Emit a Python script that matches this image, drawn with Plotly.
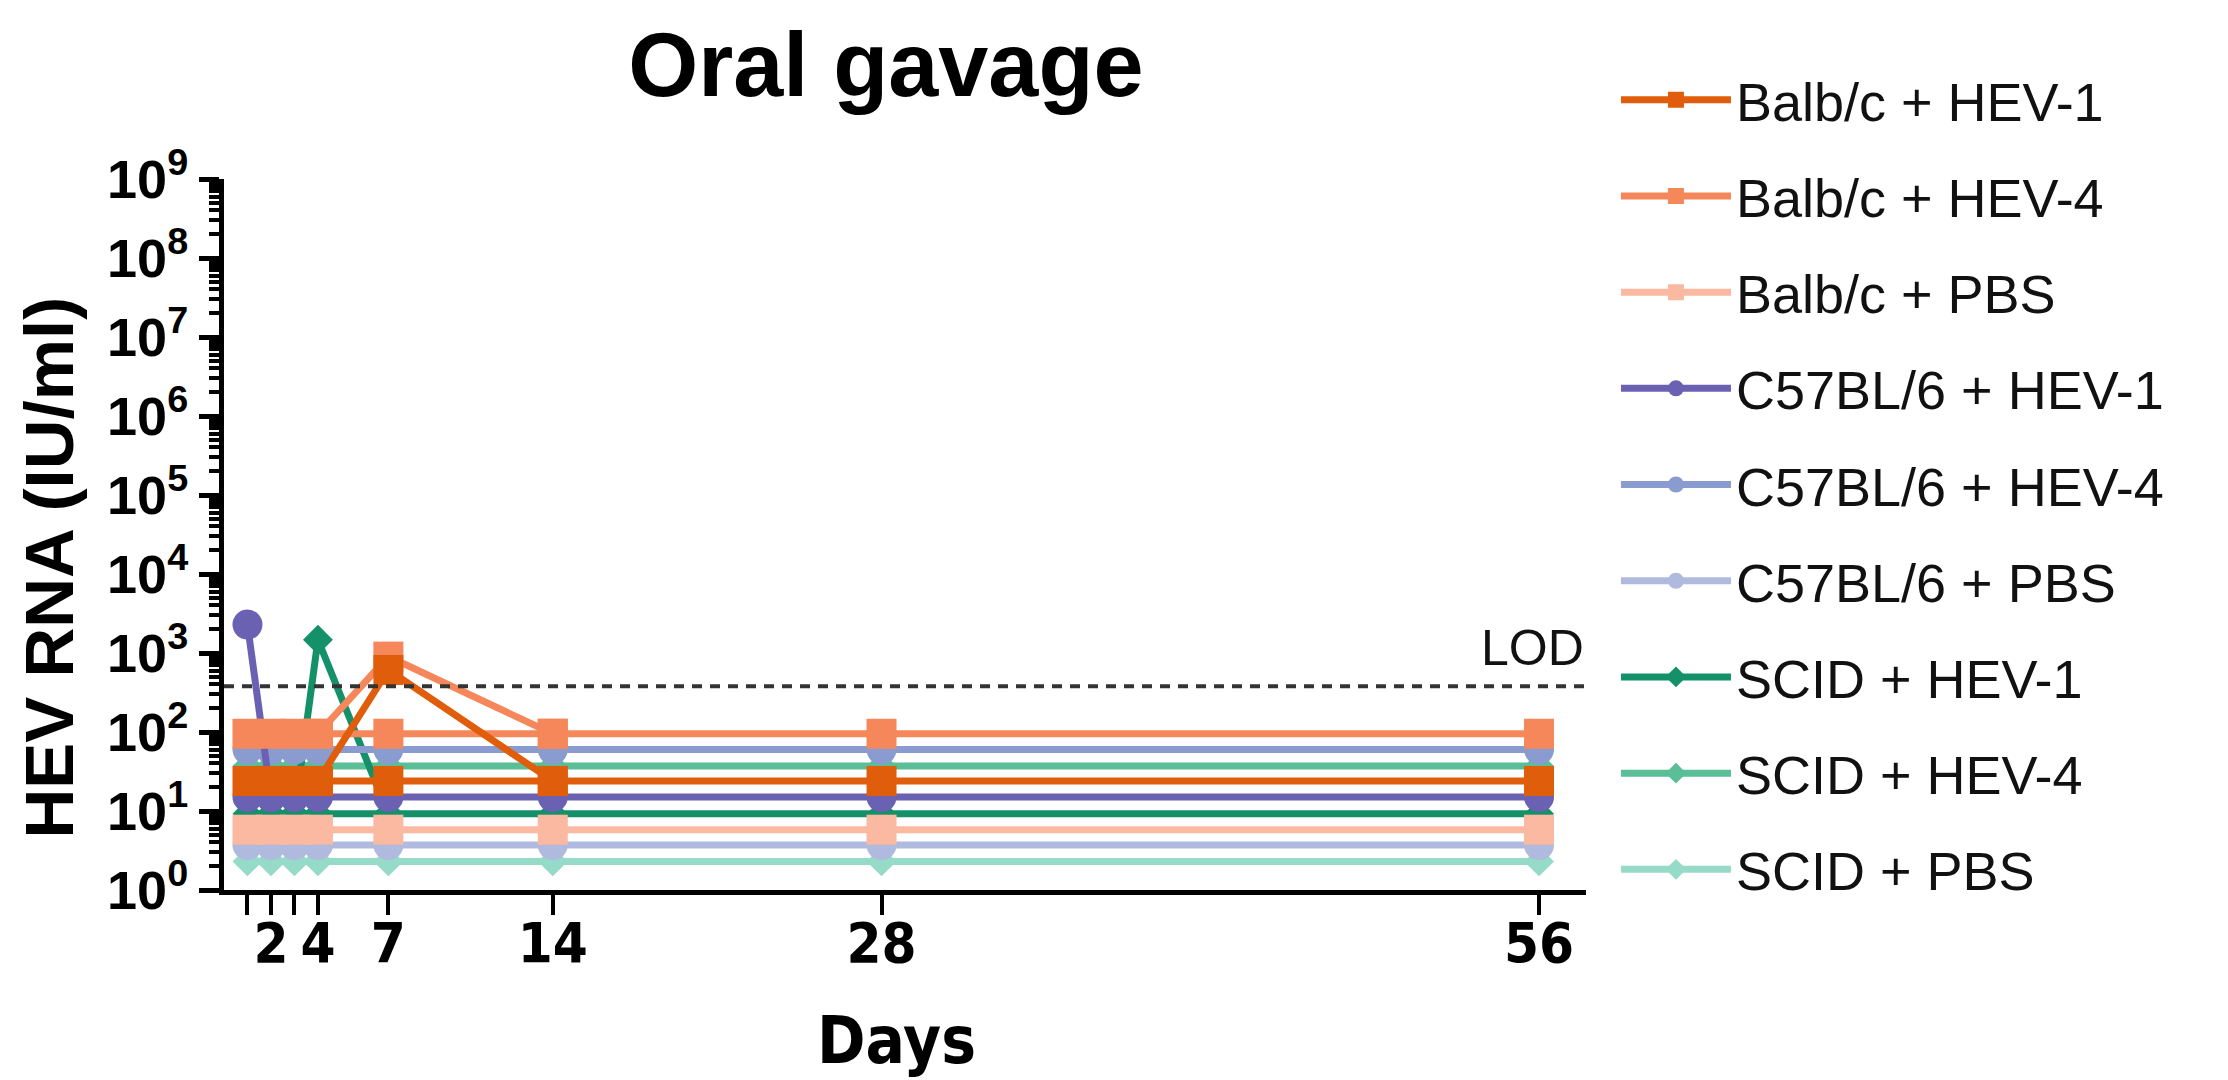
import numpy as np
import plotly.graph_objects as go

# sampling days
days = [1, 2, 3, 4, 7, 14, 28, 56]
day_labels = ['', '2', '', '4', '7', '14', '28', '56']

# HEV RNA (IU/ml): undetected samples sit on a per-group baseline below the LOD
balb_hev1 = [24, 24, 24, 24, 24, 24, 24, 24]
balb_hev4 = [95, 95, 95, 95, 95, 95, 95, 95]
balb_pbs = [5.8, 5.8, 5.8, 5.8, 5.8, 5.8, 5.8, 5.8]
c57_hev1 = [15, 15, 15, 15, 15, 15, 15, 15]
c57_hev4 = [60, 60, 60, 60, 60, 60, 60, 60]
c57_pbs = [3.7, 3.7, 3.7, 3.7, 3.7, 3.7, 3.7, 3.7]
scid_hev1 = [9.2, 9.2, 9.2, 9.2, 9.2, 9.2, 9.2, 9.2]
scid_hev4 = [37, 37, 37, 37, 37, 37, 37, 37]
scid_pbs = [2.3, 2.3, 2.3, 2.3, 2.3, 2.3, 2.3, 2.3]

# detected (positive) samples, joined to the neighbouring baseline points
balb_hev1_pos = [None, None, None, 24, 610, 24, None, None]
balb_hev4_pos = [None, None, None, 95, 900, 95, None, None]
c57_hev1_pos = [2290, 15, None, None, None, None, None, None]
scid_hev1_pos = [None, None, 9.2, 1470, 9.2, None, None, None]

LOD = 380

# name, baseline values, positive values, colour, symbol (drawn bottom to top)
series = [
    ('SCID + PBS', scid_pbs, None, '#96DAC8', 'diamond'),
    ('SCID + HEV-4', scid_hev4, None, '#5ABE96', 'diamond'),
    ('SCID + HEV-1', scid_hev1, scid_hev1_pos, '#149169', 'diamond'),
    ('C57BL/6 + PBS', c57_pbs, None, '#B0BADE', 'circle'),
    ('C57BL/6 + HEV-4', c57_hev4, None, '#8A9BD0', 'circle'),
    ('C57BL/6 + HEV-1', c57_hev1, c57_hev1_pos, '#6A61B2', 'circle'),
    ('Balb/c + PBS', balb_pbs, None, '#FAB9A0', 'square'),
    ('Balb/c + HEV-4', balb_hev4, balb_hev4_pos, '#F5875A', 'square'),
    ('Balb/c + HEV-1', balb_hev1, balb_hev1_pos, '#E05E0B', 'square'),
]

fig = go.Figure()
for i, (name, base, pos, col, sym) in enumerate(series):
    size = 23 if sym == 'diamond' else 30
    rank = 100 - i  # legend lists Balb/c first
    fig.add_trace(go.Scatter(
        x=days, y=base, name=name, mode='lines+markers',
        line=dict(color=col, width=7),
        marker=dict(color=col, symbol=sym, size=size),
        legendgroup=name, legendrank=rank))
    if pos is not None:
        fig.add_trace(go.Scatter(
            x=days, y=pos, name=name, mode='lines+markers',
            line=dict(color=col, width=7),
            marker=dict(color=col, symbol=sym, size=size),
            legendgroup=name, legendrank=rank, showlegend=False))

# limit of detection
fig.add_hline(y=LOD, line=dict(color='#333333', width=4, dash='10px,8px'))
fig.add_annotation(text='LOD', x=1, xref='paper', xanchor='right',
                   y=np.log10(LOD), yref='y', yanchor='bottom', yshift=8,
                   showarrow=False,
                   font=dict(family='Liberation Sans', size=50, color='#111111'))

decades = [10 ** d for d in range(10)]
minor_vals = [k * 10 ** d for d in range(9) for k in range(2, 10)]

fig.update_layout(
    width=2228, height=1080,
    margin=dict(l=216, r=650, t=171, b=198),
    plot_bgcolor='white', paper_bgcolor='white',
    title=dict(text='Oral gavage', x=0.394, xref='container', xanchor='center',
               y=1 - 56 / 1080, yref='container', yanchor='middle',
               font=dict(family='Liberation Sans', size=90, weight='bold', color='black')),
    legend=dict(traceorder='grouped', x=1.022, xanchor='left', y=1.17, yanchor='top',
                font=dict(family='Liberation Sans', size=54, color='#111111'),
                itemwidth=110, tracegroupgap=23, maxheight=1060,
                bgcolor='rgba(0,0,0,0)'),
    showlegend=True,
)

fig.update_xaxes(
    range=[0, 58], showgrid=False, zeroline=False,
    showline=True, linecolor='black', linewidth=5,
    ticks='outside', ticklen=20, tickwidth=4, tickcolor='black',
    tickmode='array', tickvals=days, ticktext=day_labels,
    ticklabelstandoff=-20,
    tickfont=dict(family='DejaVu Sans Condensed', size=56,
                  weight='bold', color='black'))

fig.update_yaxes(
    type='log', range=[0, 9], showgrid=False, zeroline=False,
    showline=True, linecolor='black', linewidth=5,
    ticks='outside', ticklen=20, tickwidth=5, tickcolor='black',
    tickmode='array', tickvals=decades,
    ticktext=['10<sup>%d</sup>' % d for d in range(10)],
    tickfont=dict(family='Liberation Sans', size=54, weight='bold', color='black'),
    minor=dict(tickmode='array', tickvals=minor_vals, ticks='outside',
               ticklen=10, tickwidth=4, tickcolor='black'))

fig.add_annotation(text='HEV RNA (IU/ml)', textangle=-90, showarrow=False,
                   x=-0.128, xref='paper', xanchor='center',
                   y=0.453, yref='paper', yanchor='middle',
                   font=dict(family='Liberation Sans', size=69, weight='bold', color='black'))
fig.add_annotation(text='Days', showarrow=False,
                   x=0.494, xref='paper', xanchor='center',
                   y=-0.211, yref='paper', yanchor='middle',
                   font=dict(family='DejaVu Sans Condensed', size=65,
                             weight='bold', color='black'))

fig.write_html("out.html")
